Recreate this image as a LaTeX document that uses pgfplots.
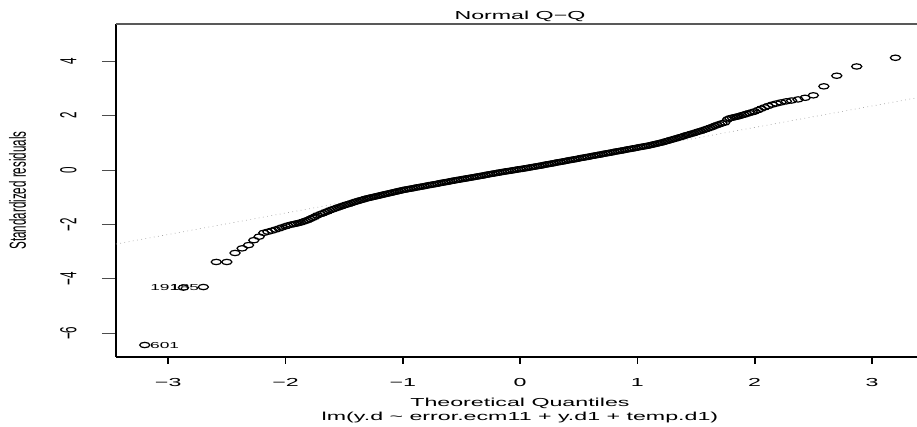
\documentclass[border=0pt]{standalone}
\usepackage{fontspec}
\setmainfont{Liberation Sans}
\usepackage{graphicx}
\usepackage{pgfplots}
\pgfplotsset{compat=1.18}
\usetikzlibrary{calc}
\newcommand\rf{\fontsize{8.7}{10.4}\selectfont}
\newcommand\idf{\fontsize{6.5}{7.8}\selectfont}
\newcommand\hs[1]{\scalebox{2}[1]{#1}}
\newcommand\vs[1]{\scalebox{1}[2]{#1}}
\begin{document}
\begin{tikzpicture}
\begin{axis}[
  name=ax, scale only axis, width=600.75pt, height=249.75pt,
  xmin=-3.445, xmax=3.384, ymin=-6.87, ymax=5.36,
  clip=false,
  axis x line*=bottom, axis y line*=left,
  axis line style={-},
  x axis line style={line width=0.8pt},
  y axis line style={line width=1.4pt},
  tick align=outside,
  xtick={-3,-2,-1,0,1,2,3},
  xticklabels={\hs{−3},\hs{−2},\hs{−1},\hs{0},\hs{1},\hs{2},\hs{3}},
  ytick={-6,-4,-2,0,2,4},
  yticklabels={\vs{−6},\vs{−4},\vs{−2},\vs{0},\vs{2},\vs{4}},
  xtick style={/pgfplots/major tick length=5pt, line width=1.3pt, black},
  ytick style={/pgfplots/major tick length=10.5pt, line width=0.6pt, black!70},
  xticklabel style={font=\rf, anchor=base, yshift=-18pt, inner sep=0pt},
  yticklabel style={font=\rf, anchor=base, xshift=-25.5pt, rotate=90, inner sep=0pt},
  title={\hs{Normal Q−Q}},
  every axis title/.style={at={(0.5,1)}, anchor=base, yshift=3pt, xshift=2.6pt, font=\rf},
  xlabel={\hs{Theoretical Quantiles}},
  every axis x label/.style={at={(0.5,0)}, anchor=base, yshift=-37.5pt, xshift=2.6pt, font=\rf},
  ylabel={\vs{Standardized residuals}},
  every axis y label/.style={at={(0,0.5)}, xshift=-67.5pt, rotate=90, anchor=base, font=\rf},
]
\addplot[only marks, mark=o, mark size=2pt, black, mark options={xscale=1.9, line width=0.9pt}] table {
x y
-3.20 -6.43
-2.87 -4.32
-2.70 -4.30
-2.59 -3.38
-2.50 -3.38
-2.43 -3.05
-2.37 -2.88
-2.315 -2.76
-2.27 -2.58
-2.225 -2.45
-2.185 -2.31
-2.15 -2.27
-2.115 -2.23
-2.085 -2.19
-2.055 -2.15
-2.03 -2.11
-2.00 -2.07
-1.98 -2.04
-1.953 -2.01
-1.93 -1.99
-1.91 -1.97
-1.89 -1.95
-1.87 -1.93
-1.85 -1.90
-1.83 -1.87
-1.81 -1.84
-1.79 -1.80
-1.77 -1.76
-1.75 -1.72
-1.73 -1.67
-1.70 -1.62
-1.68 -1.59
-1.66 -1.55
-1.64 -1.52
-1.62 -1.48
-1.60 -1.45
-1.58 -1.42
-1.56 -1.39
-1.54 -1.36
-1.52 -1.33
-1.50 -1.30
-1.48 -1.27
-1.46 -1.25
-1.44 -1.22
-1.42 -1.19
-1.40 -1.16
-1.38 -1.14
-1.36 -1.11
-1.34 -1.09
-1.32 -1.06
-1.30 -1.04
-1.28 -1.02
-1.26 -1.00
-1.24 -0.98
-1.22 -0.96
-1.20 -0.94
-1.18 -0.92
-1.16 -0.90
-1.14 -0.88
-1.12 -0.86
-1.10 -0.84
-1.08 -0.82
-1.06 -0.80
-1.04 -0.78
-1.02 -0.76
-1.00 -0.74
-0.98 -0.72
-0.96 -0.71
-0.94 -0.69
-0.92 -0.68
-0.90 -0.66
-0.88 -0.64
-0.86 -0.63
-0.84 -0.61
-0.82 -0.60
-0.80 -0.58
-0.78 -0.56
-0.76 -0.55
-0.74 -0.53
-0.72 -0.52
-0.70 -0.50
-0.68 -0.48
-0.66 -0.47
-0.64 -0.45
-0.62 -0.44
-0.60 -0.42
-0.58 -0.40
-0.56 -0.39
-0.54 -0.37
-0.52 -0.36
-0.50 -0.34
-0.48 -0.33
-0.46 -0.31
-0.44 -0.30
-0.42 -0.28
-0.40 -0.27
-0.38 -0.25
-0.36 -0.24
-0.34 -0.22
-0.32 -0.21
-0.30 -0.19
-0.28 -0.17
-0.26 -0.16
-0.24 -0.14
-0.22 -0.13
-0.20 -0.11
-0.18 -0.10
-0.16 -0.08
-0.14 -0.07
-0.12 -0.05
-0.10 -0.04
-0.08 -0.03
-0.06 -0.01
-0.04 0.00
-0.02 0.02
0.00 0.03
0.02 0.04
0.04 0.06
0.06 0.07
0.08 0.09
0.10 0.10
0.12 0.12
0.14 0.13
0.16 0.15
0.18 0.16
0.20 0.18
0.22 0.20
0.24 0.21
0.26 0.23
0.28 0.24
0.30 0.26
0.32 0.28
0.34 0.29
0.36 0.31
0.38 0.32
0.40 0.34
0.42 0.36
0.44 0.37
0.46 0.39
0.48 0.40
0.50 0.42
0.52 0.44
0.54 0.45
0.56 0.47
0.58 0.48
0.60 0.50
0.62 0.52
0.64 0.53
0.66 0.55
0.68 0.56
0.70 0.58
0.72 0.60
0.74 0.61
0.76 0.63
0.78 0.64
0.80 0.66
0.82 0.68
0.84 0.69
0.86 0.71
0.88 0.72
0.90 0.74
0.92 0.76
0.94 0.77
0.96 0.79
0.98 0.80
1.00 0.82
1.02 0.84
1.04 0.85
1.06 0.87
1.08 0.88
1.10 0.90
1.12 0.92
1.14 0.94
1.16 0.96
1.18 0.98
1.20 1.00
1.22 1.02
1.24 1.05
1.26 1.07
1.28 1.10
1.30 1.12
1.32 1.15
1.34 1.17
1.36 1.20
1.38 1.22
1.40 1.25
1.42 1.28
1.44 1.30
1.46 1.33
1.48 1.35
1.50 1.38
1.52 1.41
1.54 1.43
1.56 1.46
1.58 1.49
1.60 1.52
1.62 1.55
1.64 1.58
1.66 1.62
1.68 1.65
1.70 1.68
1.72 1.71
1.745 1.74
1.77 1.86
1.79 1.90
1.81 1.92
1.83 1.94
1.85 1.96
1.87 1.98
1.89 2.01
1.91 2.03
1.93 2.06
1.953 2.09
1.98 2.12
2.00 2.15
2.03 2.20
2.055 2.25
2.085 2.30
2.115 2.35
2.15 2.40
2.185 2.44
2.225 2.48
2.27 2.52
2.315 2.55
2.37 2.59
2.43 2.65
2.50 2.74
2.59 3.07
2.70 3.46
2.87 3.80
3.20 4.12
};
\addplot[gray!70, line width=0.5pt, dash pattern=on 0.6pt off 2.6pt] coordinates {(-3.445,-2.72) (3.384,2.65)};
\draw[black!65, line width=0.8pt] (rel axis cs:0,1) -- (rel axis cs:1,1);
\node[anchor=west, inner sep=0pt, font=\idf] at ([xshift=3pt]axis cs:-3.19,-6.43) {\hs{601}};
\node[anchor=east, inner sep=0pt, font=\idf] at ([xshift=-3pt]axis cs:-2.87,-4.32) {\hs{191}};
\node[anchor=east, inner sep=0pt, font=\idf] at ([xshift=-3pt]axis cs:-2.70,-4.30) {\hs{185}};
\node[anchor=base, font=\rf] at ([yshift=-48pt, xshift=2.6pt]rel axis cs:0.5,0) {\hs{lm(y.d \textasciitilde{} error.ecm11 + y.d1 + temp.d1)}};
\end{axis}
\pgfresetboundingbox
\path ($(ax.south west)+(-87pt,-52.5pt)$) rectangle ($(ax.north east)+(0pt,18pt)$);
\end{tikzpicture}
\end{document}
